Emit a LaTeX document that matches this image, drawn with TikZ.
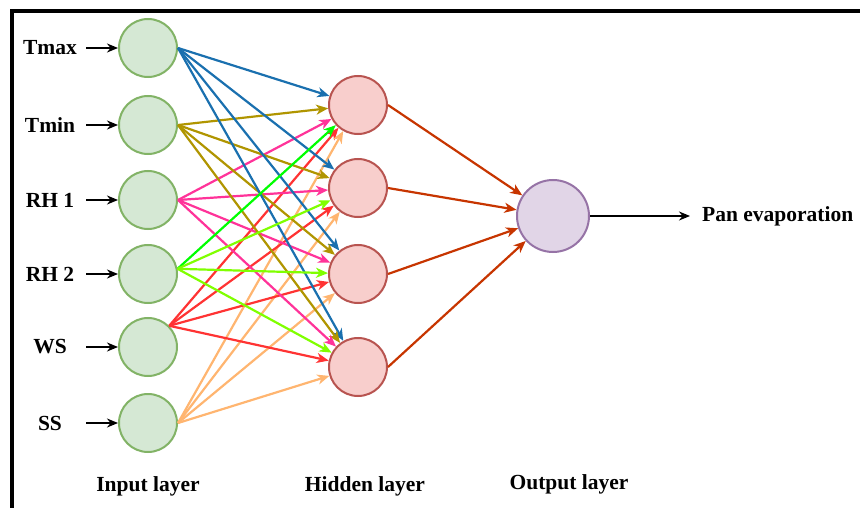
\documentclass[tikz,border=0pt]{standalone}
\usepackage{fontspec}
\setmainfont{Liberation Serif}
\usetikzlibrary{arrows.meta}

\definecolor{inFill}{HTML}{D5E8D4}
\definecolor{inLine}{HTML}{82B366}
\definecolor{hidFill}{HTML}{F8CECC}
\definecolor{hidLine}{HTML}{B85450}
\definecolor{outFill}{HTML}{E1D5E7}
\definecolor{outLine}{HTML}{9673A6}
\definecolor{cTmax}{HTML}{1A70AF}
\definecolor{cTmin}{HTML}{B09500}
\definecolor{cRHa}{HTML}{FF3399}
\definecolor{cRHbA}{HTML}{00FF00}
\definecolor{cRHb}{HTML}{80FF00}
\definecolor{cWS}{HTML}{FF3333}
\definecolor{cSS}{HTML}{FFB570}
\definecolor{cOut}{HTML}{C73500}

\tikzset{
  neuron/.style={circle, minimum size=58pt, inner sep=0pt, line width=2pt},
  inneuron/.style={neuron, draw=inLine, fill=inFill},
  hidneuron/.style={neuron, draw=hidLine, fill=hidFill},
  outneuron/.style={circle, minimum size=72pt, inner sep=0pt, line width=2pt, draw=outLine, fill=outFill},
  lbl/.style={font=\fontsize{21.5}{24}\selectfont\bfseries, inner sep=0pt},
  feed/.style={-{Stealth[length=11pt,width=9pt,inset=3.5pt]}, line width=1.6pt, black},
  wire/.style={-{Stealth[length=12pt,width=10pt,inset=3.5pt]}, line width=2.2pt},
}

\begin{document}
\begin{tikzpicture}[x=1pt,y=-1pt]
\useasboundingbox (0,0) rectangle (860,508);

% frame (top and left edges)
\draw[line width=4pt, black] (12,508) -- (12,11) -- (860,11);

% input layer
\foreach \n/\y/\t in {1/48/Tmax, 2/125/Tmin, 3/200/RH 1, 4/274/RH 2, 5/347/WS, 6/423/SS}{
  \node[inneuron] (I\n) at (148,\y) {};
  \node[lbl] (L\n) at (50,\y) {\t};
  \coordinate (F\n) at (86,\y);
  \draw[feed] (F\n) -- (I\n);
}

% hidden layer
\node[hidneuron] (H1) at (358,105) {};
\node[hidneuron] (H2) at (358,188) {};
\node[hidneuron] (H3) at (358,274) {};
\node[hidneuron] (H4) at (358,367) {};

% output layer
\node[outneuron] (O) at (553,216) {};

% input -> hidden connections
\foreach \h in {1,...,4}{
  \draw[wire, cTmax] (I1.east) -- (H\h);
  \draw[wire, cTmin] (I2.east) -- (H\h);
  \draw[wire, cRHa] (I3.east) -- (H\h);
  \draw[wire, cWS] (I5.north east) -- (H\h);
  \draw[wire, cSS] (I6.east) -- (H\h);
}
\draw[wire, cRHbA] (I4.10) -- (H1);
\foreach \h in {2,3,4}{
  \draw[wire, cRHb] (I4.10) -- (H\h);
}

% hidden -> output connections
\foreach \h in {1,...,4}{
  \draw[wire, cOut] (H\h.east) -- (O);
}

% network output
\coordinate (P) at (690,216);
\draw[feed] (O.east) -- (P);
\node[lbl, anchor=west] (PE) at (702,216) {Pan evaporation};

% layer captions
\node[lbl] (CI) at (148,486) {Input layer};
\node[lbl] (CH) at (365,486) {Hidden layer};
\node[lbl] (CO) at (569,484) {Output layer};
\end{tikzpicture}
\end{document}
